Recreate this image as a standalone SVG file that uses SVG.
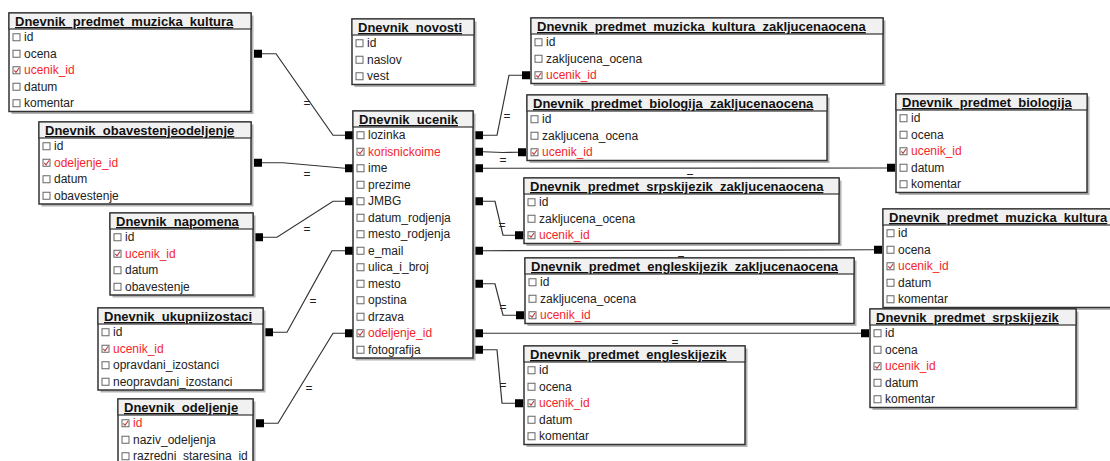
<svg xmlns="http://www.w3.org/2000/svg" width="1110" height="461" viewBox="0 0 1110 461">
<style>
.sh{fill:#b4b4b4}
.box{fill:#fff;stroke:#333;stroke-width:1.5}
.hd{fill:#f1f1f1;stroke:#333;stroke-width:1.2}
.t{font-family:"Liberation Sans",Arial,sans-serif;font-size:13px;font-weight:bold;fill:#111;text-decoration:underline}
.f{font-family:"Liberation Sans",Arial,sans-serif;font-size:12px;fill:#222}
.k{fill:#f4262c}
.cb{fill:#fff;stroke:#666;stroke-width:1}
.ck{fill:none;stroke:#c0393d;stroke-width:1.1}
.sq{fill:#000}
.c{fill:none;stroke:#333;stroke-width:1.2}
.eq{font-family:"Liberation Sans",Arial,sans-serif;font-size:12px;fill:#222;text-anchor:middle}
</style>
<defs>
<g id="cbx"><rect class="cb" x="0" y="0" width="7" height="7"/></g>
<g id="cbk"><rect class="cb" x="0" y="0" width="7" height="7"/><path class="ck" d="M1.3,3.6 L3,5.6 L6,1.3"/></g>
</defs>

<g id="connectors">
<polyline class="c" points="262,53.75 276,53.75 333,135.25 345,135.25"/>
<rect class="sq" x="254" y="49.75" width="8" height="8"/><rect class="sq" x="345" y="131.25" width="8" height="8"/>
<text class="eq" x="307" y="107">=</text>
<polyline class="c" points="262,162.75 283,162.75 345,168.25"/>
<rect class="sq" x="254" y="158.75" width="8" height="8"/><rect class="sq" x="345" y="164.25" width="8" height="8"/>
<text class="eq" x="307" y="178">=</text>
<polyline class="c" points="263,237.25 277,237.25 333,201.25 345,201.25"/>
<rect class="sq" x="255" y="233.25" width="8" height="8"/><rect class="sq" x="345" y="197.25" width="8" height="8"/>
<text class="eq" x="307" y="233">=</text>
<polyline class="c" points="273,332.25 287,332.25 332,250.75 345,250.75"/>
<rect class="sq" x="265" y="328.25" width="8" height="8"/><rect class="sq" x="345" y="246.75" width="8" height="8"/>
<text class="eq" x="313" y="305">=</text>
<polyline class="c" points="264,423.25 278,423.25 333,333.25 345,333.25"/>
<rect class="sq" x="256" y="419.25" width="8" height="8"/><rect class="sq" x="345" y="329.25" width="8" height="8"/>
<text class="eq" x="309" y="392">=</text>
<polyline class="c" points="483,135.25 497,135.25 509,75.25 522,75.25"/>
<rect class="sq" x="475" y="131.25" width="8" height="8"/><rect class="sq" x="522" y="71.25" width="8" height="8"/>
<text class="eq" x="507" y="120">=</text>
<polyline class="c" points="483,151.75 503,152.5 518,152.25"/>
<rect class="sq" x="475" y="147.75" width="8" height="8"/><rect class="sq" x="518" y="148.25" width="8" height="8"/>
<text class="eq" x="503" y="164">=</text>
<polyline class="c" points="483,168.25 887,168"/>
<rect class="sq" x="475" y="164.25" width="8" height="8"/><rect class="sq" x="887" y="163.75" width="8" height="8"/>
<text class="eq" x="690" y="180">=</text>
<polyline class="c" points="483,201.25 495,201.25 503,235.25 515,235.25"/>
<rect class="sq" x="475" y="197.25" width="8" height="8"/><rect class="sq" x="515" y="231.25" width="8" height="8"/>
<text class="eq" x="502" y="229">=</text>
<polyline class="c" points="483,250.75 874,249.75"/>
<rect class="sq" x="475" y="246.75" width="8" height="8"/><rect class="sq" x="874" y="245.75" width="8" height="8"/>
<text class="eq" x="681" y="262">=</text>
<polyline class="c" points="483,283.75 495,283.75 503,315.25 517,315.25"/>
<rect class="sq" x="475" y="279.75" width="8" height="8"/><rect class="sq" x="516" y="311.25" width="8" height="8"/>
<text class="eq" x="503" y="311">=</text>
<polyline class="c" points="483,333.25 861,333.25"/>
<rect class="sq" x="475" y="329.25" width="8" height="8"/><rect class="sq" x="861" y="329.25" width="8" height="8"/>
<text class="eq" x="675" y="346">=</text>
<polyline class="c" points="483,349.75 497,349.75 502,403.25 515,403.25"/>
<rect class="sq" x="475" y="345.75" width="8" height="8"/><rect class="sq" x="515" y="399.25" width="8" height="8"/>
<text class="eq" x="503" y="389">=</text>
</g>

<g id="t_muzicka_kultura_left">
<rect class="sh" x="11.5" y="15.5" width="242" height="98.5"/>
<rect class="box" x="9" y="13" width="242" height="98.5"/>
<rect class="hd" x="9" y="13" width="242" height="16"/>
<text class="t" x="15" y="26">Dnevnik_predmet_muzicka_kultura</text>
<use href="#cbx" x="13" y="33.75"/><text class="f" x="24" y="41.25">id</text>
<use href="#cbx" x="13" y="50.25"/><text class="f" x="24" y="57.75">ocena</text>
<use href="#cbk" x="13" y="66.75"/><text class="f k" x="24" y="74.25">ucenik_id</text>
<use href="#cbx" x="13" y="83.25"/><text class="f" x="24" y="90.75">datum</text>
<use href="#cbx" x="13" y="99.75"/><text class="f" x="24" y="107.25">komentar</text>
</g>

<g id="t_obavestenjeodeljenje">
<rect class="sh" x="41.5" y="124.5" width="212" height="82"/>
<rect class="box" x="39" y="122" width="212" height="82"/>
<rect class="hd" x="39" y="122" width="212" height="16"/>
<text class="t" x="45" y="135">Dnevnik_obavestenjeodeljenje</text>
<use href="#cbx" x="43" y="142.75"/><text class="f" x="54" y="150.25">id</text>
<use href="#cbk" x="43" y="159.25"/><text class="f k" x="54" y="166.75">odeljenje_id</text>
<use href="#cbx" x="43" y="175.75"/><text class="f" x="54" y="183.25">datum</text>
<use href="#cbx" x="43" y="192.25"/><text class="f" x="54" y="199.75">obavestenje</text>
</g>

<g id="t_napomena">
<rect class="sh" x="112.5" y="215.5" width="143" height="82"/>
<rect class="box" x="110" y="213" width="143" height="82"/>
<rect class="hd" x="110" y="213" width="143" height="16"/>
<text class="t" x="116" y="226">Dnevnik_napomena</text>
<use href="#cbx" x="114" y="233.75"/><text class="f" x="125" y="241.25">id</text>
<use href="#cbk" x="114" y="250.25"/><text class="f k" x="125" y="257.75">ucenik_id</text>
<use href="#cbx" x="114" y="266.75"/><text class="f" x="125" y="274.25">datum</text>
<use href="#cbx" x="114" y="283.25"/><text class="f" x="125" y="290.75">obavestenje</text>
</g>

<g id="t_ukupniizostaci">
<rect class="sh" x="100.5" y="310.5" width="165" height="82"/>
<rect class="box" x="98" y="308" width="165" height="82"/>
<rect class="hd" x="98" y="308" width="165" height="16"/>
<text class="t" x="104" y="321">Dnevnik_ukupniizostaci</text>
<use href="#cbx" x="102" y="328.75"/><text class="f" x="113" y="336.25">id</text>
<use href="#cbk" x="102" y="345.25"/><text class="f k" x="113" y="352.75">ucenik_id</text>
<use href="#cbx" x="102" y="361.75"/><text class="f" x="113" y="369.25">opravdani_izostanci</text>
<use href="#cbx" x="102" y="378.25"/><text class="f" x="113" y="385.75">neopravdani_izostanci</text>
</g>

<g id="t_odeljenje">
<rect class="sh" x="120.5" y="401.5" width="135" height="72"/>
<rect class="box" x="118" y="399" width="135" height="72"/>
<rect class="hd" x="118" y="399" width="135" height="16"/>
<text class="t" x="124" y="412">Dnevnik_odeljenje</text>
<use href="#cbk" x="122" y="419.75"/><text class="f k" x="133" y="427.25">id</text>
<use href="#cbx" x="122" y="436.25"/><text class="f" x="133" y="443.75">naziv_odeljenja</text>
<use href="#cbx" x="122" y="452.75"/><text class="f" x="133" y="459.5">razredni_staresina_id</text>
</g>

<g id="t_novosti">
<rect class="sh" x="354.5" y="21.5" width="122" height="65.5"/>
<rect class="box" x="352" y="19" width="122" height="65.5"/>
<rect class="hd" x="352" y="19" width="122" height="16"/>
<text class="t" x="358" y="32">Dnevnik_novosti</text>
<use href="#cbx" x="356" y="39.75"/><text class="f" x="367" y="47.25">id</text>
<use href="#cbx" x="356" y="56.25"/><text class="f" x="367" y="63.75">naslov</text>
<use href="#cbx" x="356" y="72.75"/><text class="f" x="367" y="80.25">vest</text>
</g>

<g id="t_ucenik">
<rect class="sh" x="355.5" y="113.5" width="120" height="247"/>
<rect class="box" x="353" y="111" width="120" height="247"/>
<rect class="hd" x="353" y="111" width="120" height="16"/>
<text class="t" x="359" y="124">Dnevnik_ucenik</text>
<use href="#cbx" x="357" y="131.75"/><text class="f" x="368" y="139.25">lozinka</text>
<use href="#cbk" x="357" y="148.25"/><text class="f k" x="368" y="155.75">korisnickoime</text>
<use href="#cbx" x="357" y="164.75"/><text class="f" x="368" y="172.25">ime</text>
<use href="#cbx" x="357" y="181.25"/><text class="f" x="368" y="188.75">prezime</text>
<use href="#cbx" x="357" y="197.75"/><text class="f" x="368" y="205.25">JMBG</text>
<use href="#cbx" x="357" y="214.25"/><text class="f" x="368" y="221.75">datum_rodjenja</text>
<use href="#cbx" x="357" y="230.75"/><text class="f" x="368" y="238.25">mesto_rodjenja</text>
<use href="#cbx" x="357" y="247.25"/><text class="f" x="368" y="254.75">e_mail</text>
<use href="#cbx" x="357" y="263.75"/><text class="f" x="368" y="271.25">ulica_i_broj</text>
<use href="#cbx" x="357" y="280.25"/><text class="f" x="368" y="287.75">mesto</text>
<use href="#cbx" x="357" y="296.75"/><text class="f" x="368" y="304.25">opstina</text>
<use href="#cbx" x="357" y="313.25"/><text class="f" x="368" y="320.75">drzava</text>
<use href="#cbk" x="357" y="329.75"/><text class="f k" x="368" y="337.25">odeljenje_id</text>
<use href="#cbx" x="357" y="346.25"/><text class="f" x="368" y="353.75">fotografija</text>
</g>

<g id="t_muzicka_kultura_zakljucenaocena">
<rect class="sh" x="533.5" y="20.5" width="352" height="65.5"/>
<rect class="box" x="531" y="18" width="352" height="65.5"/>
<rect class="hd" x="531" y="18" width="352" height="16"/>
<text class="t" x="537" y="31">Dnevnik_predmet_muzicka_kultura_zakljucenaocena</text>
<use href="#cbx" x="535" y="38.75"/><text class="f" x="546" y="46.25">id</text>
<use href="#cbx" x="535" y="55.25"/><text class="f" x="546" y="62.75">zakljucena_ocena</text>
<use href="#cbk" x="535" y="71.75"/><text class="f k" x="546" y="79.25">ucenik_id</text>
</g>

<g id="t_biologija_zakljucenaocena">
<rect class="sh" x="529.5" y="97.5" width="300" height="65.5"/>
<rect class="box" x="527" y="95" width="300" height="65.5"/>
<rect class="hd" x="527" y="95" width="300" height="16"/>
<text class="t" x="533" y="108">Dnevnik_predmet_biologija_zakljucenaocena</text>
<use href="#cbx" x="531" y="115.75"/><text class="f" x="542" y="123.25">id</text>
<use href="#cbx" x="531" y="132.25"/><text class="f" x="542" y="139.75">zakljucena_ocena</text>
<use href="#cbk" x="531" y="148.75"/><text class="f k" x="542" y="156.25">ucenik_id</text>
</g>

<g id="t_biologija">
<rect class="sh" x="898.5" y="96.5" width="191" height="98.5"/>
<rect class="box" x="896" y="94" width="191" height="98.5"/>
<rect class="hd" x="896" y="94" width="191" height="16"/>
<text class="t" x="902" y="107">Dnevnik_predmet_biologija</text>
<use href="#cbx" x="900" y="114.75"/><text class="f" x="911" y="122.25">id</text>
<use href="#cbx" x="900" y="131.25"/><text class="f" x="911" y="138.75">ocena</text>
<use href="#cbk" x="900" y="147.75"/><text class="f k" x="911" y="155.25">ucenik_id</text>
<use href="#cbx" x="900" y="164.25"/><text class="f" x="911" y="171.75">datum</text>
<use href="#cbx" x="900" y="180.75"/><text class="f" x="911" y="188.25">komentar</text>
</g>

<g id="t_srpskijezik_zakljucenaocena">
<rect class="sh" x="526.5" y="180.5" width="315" height="65.5"/>
<rect class="box" x="524" y="178" width="315" height="65.5"/>
<rect class="hd" x="524" y="178" width="315" height="16"/>
<text class="t" x="530" y="191">Dnevnik_predmet_srpskijezik_zakljucenaocena</text>
<use href="#cbx" x="528" y="198.75"/><text class="f" x="539" y="206.25">id</text>
<use href="#cbx" x="528" y="215.25"/><text class="f" x="539" y="222.75">zakljucena_ocena</text>
<use href="#cbk" x="528" y="231.75"/><text class="f k" x="539" y="239.25">ucenik_id</text>
</g>

<g id="t_muzicka_kultura_right">
<rect class="sh" x="885.5" y="211.5" width="240" height="98.5"/>
<rect class="box" x="883" y="209" width="240" height="98.5"/>
<rect class="hd" x="883" y="209" width="240" height="16"/>
<text class="t" x="889" y="222">Dnevnik_predmet_muzicka_kultura</text>
<use href="#cbx" x="887" y="229.75"/><text class="f" x="898" y="237.25">id</text>
<use href="#cbx" x="887" y="246.25"/><text class="f" x="898" y="253.75">ocena</text>
<use href="#cbk" x="887" y="262.75"/><text class="f k" x="898" y="270.25">ucenik_id</text>
<use href="#cbx" x="887" y="279.25"/><text class="f" x="898" y="286.75">datum</text>
<use href="#cbx" x="887" y="295.75"/><text class="f" x="898" y="303.25">komentar</text>
</g>

<g id="t_engleskijezik_zakljucenaocena">
<rect class="sh" x="527.5" y="260.5" width="329" height="65.5"/>
<rect class="box" x="525" y="258" width="329" height="65.5"/>
<rect class="hd" x="525" y="258" width="329" height="16"/>
<text class="t" x="531" y="271">Dnevnik_predmet_engleskijezik_zakljucenaocena</text>
<use href="#cbx" x="529" y="278.75"/><text class="f" x="540" y="286.25">id</text>
<use href="#cbx" x="529" y="295.25"/><text class="f" x="540" y="302.75">zakljucena_ocena</text>
<use href="#cbk" x="529" y="311.75"/><text class="f k" x="540" y="319.25">ucenik_id</text>
</g>

<g id="t_srpskijezik">
<rect class="sh" x="872.5" y="311.5" width="206" height="98.5"/>
<rect class="box" x="870" y="309" width="206" height="98.5"/>
<rect class="hd" x="870" y="309" width="206" height="16"/>
<text class="t" x="876" y="322">Dnevnik_predmet_srpskijezik</text>
<use href="#cbx" x="874" y="329.75"/><text class="f" x="885" y="337.25">id</text>
<use href="#cbx" x="874" y="346.25"/><text class="f" x="885" y="353.75">ocena</text>
<use href="#cbk" x="874" y="362.75"/><text class="f k" x="885" y="370.25">ucenik_id</text>
<use href="#cbx" x="874" y="379.25"/><text class="f" x="885" y="386.75">datum</text>
<use href="#cbx" x="874" y="395.75"/><text class="f" x="885" y="403.25">komentar</text>
</g>

<g id="t_engleskijezik">
<rect class="sh" x="526.5" y="348.5" width="221" height="98.5"/>
<rect class="box" x="524" y="346" width="221" height="98.5"/>
<rect class="hd" x="524" y="346" width="221" height="16"/>
<text class="t" x="530" y="359">Dnevnik_predmet_engleskijezik</text>
<use href="#cbx" x="528" y="366.75"/><text class="f" x="539" y="374.25">id</text>
<use href="#cbx" x="528" y="383.25"/><text class="f" x="539" y="390.75">ocena</text>
<use href="#cbk" x="528" y="399.75"/><text class="f k" x="539" y="407.25">ucenik_id</text>
<use href="#cbx" x="528" y="416.25"/><text class="f" x="539" y="423.75">datum</text>
<use href="#cbx" x="528" y="432.75"/><text class="f" x="539" y="440.25">komentar</text>
</g>
</svg>
